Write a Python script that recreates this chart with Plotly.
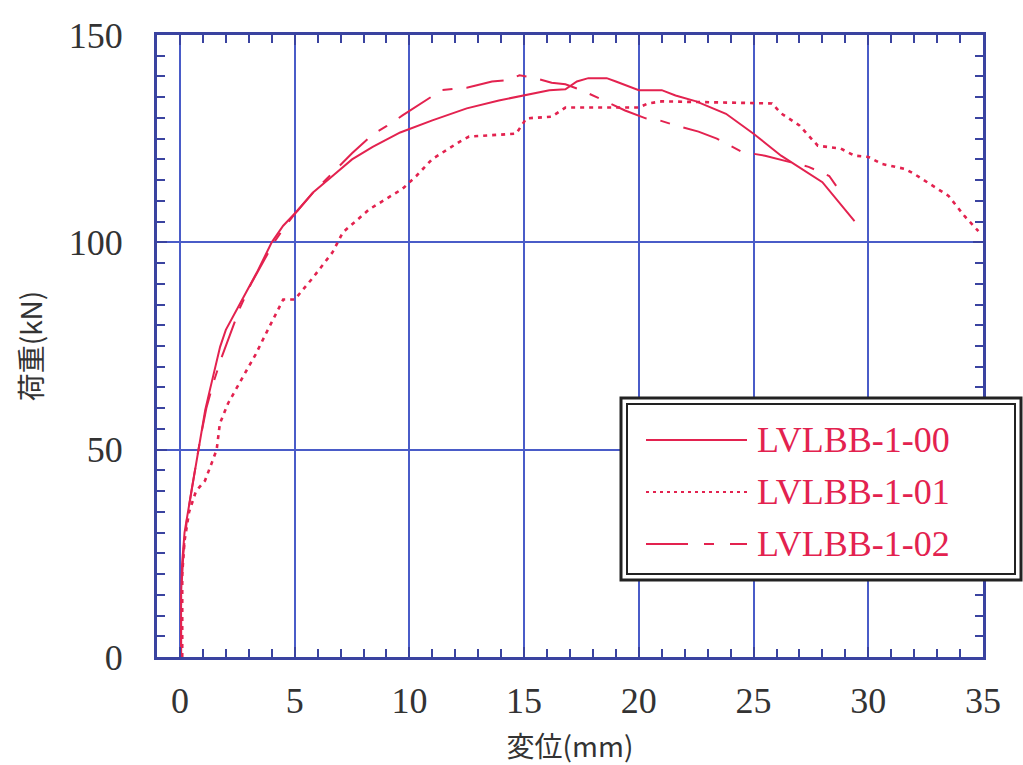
import plotly.graph_objects as go

# ---- data ----
x00 = [0.05, 0.05, 0.1, 0.2, 0.35, 0.5, 0.65, 0.8, 0.95, 1.1, 1.3, 1.5, 1.75, 2.0, 2.7, 3.35, 4.0, 4.5,
       5.1, 5.8, 6.65, 7.5, 8.4, 9.6, 11.0, 12.5, 13.9, 14.9, 16.1, 16.8, 17.3, 17.8, 18.6, 19.0, 19.6,
       20.0, 21.0, 21.6, 22.5, 23.8, 25.0, 26.2, 28.0, 29.4]
y00 = [0, 15, 23, 30, 35, 40, 45, 50, 54.6, 59.5, 64.3, 69.2, 74.8, 78.9, 86.2, 92.7, 100, 104,
       107.5, 112, 116, 120, 123, 126.5, 129.4, 132.3, 134.2, 135.4, 136.7, 136.9, 138.8, 139.6, 139.6,
       138.8, 137.6, 136.7, 136.7, 135.4, 134, 131, 126.2, 120.9, 114.5, 105.1]

x01 = [0.1, 0.1, 0.2, 0.4, 0.7, 1.09, 1.4, 1.6, 1.74, 2.1, 2.74, 3.3, 3.83, 4.5, 5.0, 5.8, 6.65, 7.1,
       8.26, 9.7, 10.3, 11.0, 12.2, 12.6, 14.65, 15.1, 16.2, 16.8, 20.0, 20.4, 21.0, 25.8, 26.2, 27.0,
       27.8, 28.8, 29.4, 30.0, 30.6, 31.6, 32.0, 32.7, 33.5, 34.2, 34.8]
y01 = [0, 20, 28, 35, 40, 42.5, 47, 50, 56.3, 61.2, 67.5, 73, 78.9, 86.2, 86.2, 91.5, 97.6, 102.4,
       108, 112.9, 116, 120.1, 124.3, 125.5, 126.2, 129.9, 130.3, 132.5, 132.5, 133.5, 134, 133.5, 131.1, 128.2,
       123.3, 122.6, 120.9, 120.6, 118.9, 117.7, 116.5, 114.1, 111.2, 106.3, 102.7]

x02 = [0.05, 0.05, 0.15, 0.3, 0.5, 0.7, 0.9, 1.15, 1.45, 1.8, 2.2, 2.6, 3.1, 3.6, 4.1, 4.6, 5.1, 5.8,
       6.5, 7.5, 8.4, 9.0, 9.7, 10.5, 11.4, 12.5, 13.6, 14.3, 14.8, 15.5, 16.2, 16.8, 17.5, 19.4, 20.3,
       20.8, 21.6, 22.6, 23.4, 24.5, 25.5, 27.4, 28.3, 28.6]
y02 = [0, 15, 25, 33, 40, 47, 53, 60, 66, 72, 78, 84, 90, 95, 100, 104, 107.5, 112,
       116, 121.5, 126, 128, 130.6, 133.5, 136.7, 137.3, 138.8, 139.1, 140.3, 139.6, 138.5, 138.1, 136.7, 131.8, 129.9,
       129.6, 128.2, 126.7, 125, 121.8, 120.9, 118.2, 116, 113.6]

names = ["LVLBB-1-00", "LVLBB-1-01", "LVLBB-1-02"]
x_ticks = [0, 5, 10, 15, 20, 25, 30, 35]
y_ticks = [0, 50, 100, 150]

RED = "#e3224f"
BLUE = "#4a5cc8"
FRAME = "#3a43a0"
dashes = ["solid", "4px,5px", "38px,14px,10px,14px"]
widths = [2, 2.6, 2]
legend_dashes = ["solid", "3px,4px", "42px,16px,10px,16px"]

fig = go.Figure()
for xs, ys, nm, d, w in zip([x00, x01, x02], [y00, y01, y02], names, dashes, widths):
    fig.add_trace(go.Scatter(x=xs, y=ys, mode="lines", name=nm, showlegend=False,
                             line=dict(color=RED, width=w, dash=d)))

tickfont = dict(family="Liberation Serif", size=36, color="#333333")
fig.update_layout(
    width=1023, height=765,
    margin=dict(l=157, r=40, t=35, b=108, autoexpand=False),
    paper_bgcolor="white", plot_bgcolor="white",
    xaxis=dict(range=[-1, 35], tickvals=x_ticks, ticks="inside", ticklen=10, tickwidth=2,
               tickcolor=FRAME, showline=True, linecolor=FRAME, linewidth=3, mirror="allticks",
               showgrid=True, gridcolor=BLUE, gridwidth=2, zeroline=False,
               tickfont=tickfont, ticklabelstandoff=10,
               minor=dict(ticks="inside", ticklen=8, tickwidth=2, tickcolor=FRAME, dtick=1, tick0=0, showgrid=False),
               title=dict(text="変位(mm)", font=dict(family="Noto Sans CJK JP", size=28, color="#333333"), standoff=18)),
    yaxis=dict(range=[0, 150], tickvals=y_ticks, ticks="inside", ticklen=10, tickwidth=2,
               tickcolor=FRAME, showline=True, linecolor=FRAME, linewidth=3, mirror="allticks",
               showgrid=True, gridcolor=BLUE, gridwidth=2, zeroline=False,
               tickfont=tickfont, ticklabelstandoff=24,
               minor=dict(ticks="inside", ticklen=8, tickwidth=2, tickcolor=FRAME, dtick=5, tick0=0, showgrid=False),
               title=dict(text="荷重(kN)", font=dict(family="Noto Sans CJK JP", size=28, color="#333333"), standoff=18)),
)

# ---- custom legend box (double border) ----
W, H, L, B = 826.0, 622.0, 157.0, 657.0
def px(v):
    return (v - L) / W
def py(v):
    return (B - v) / H

fig.add_shape(type="rect", xref="paper", yref="paper", x0=px(621), x1=px(1021), y0=py(580), y1=py(398),
              line=dict(color="#222222", width=3), fillcolor="white", layer="above")
fig.add_shape(type="rect", xref="paper", yref="paper", x0=px(627), x1=px(1015), y0=py(574), y1=py(404),
              line=dict(color="#222222", width=2), fillcolor="rgba(0,0,0,0)", layer="above")
rows = [440, 492, 544]
for nm, d, r in zip(names, legend_dashes, rows):
    fig.add_shape(type="line", xref="paper", yref="paper", x0=px(646), x1=px(747), y0=py(r), y1=py(r),
                  line=dict(color=RED, width=2, dash=d), layer="above")
    fig.add_annotation(xref="paper", yref="paper", x=px(755), y=py(r), text=nm, showarrow=False,
                       xanchor="left", yanchor="middle",
                       font=dict(family="Liberation Serif", size=36, color=RED))

fig.write_html("out.html")
